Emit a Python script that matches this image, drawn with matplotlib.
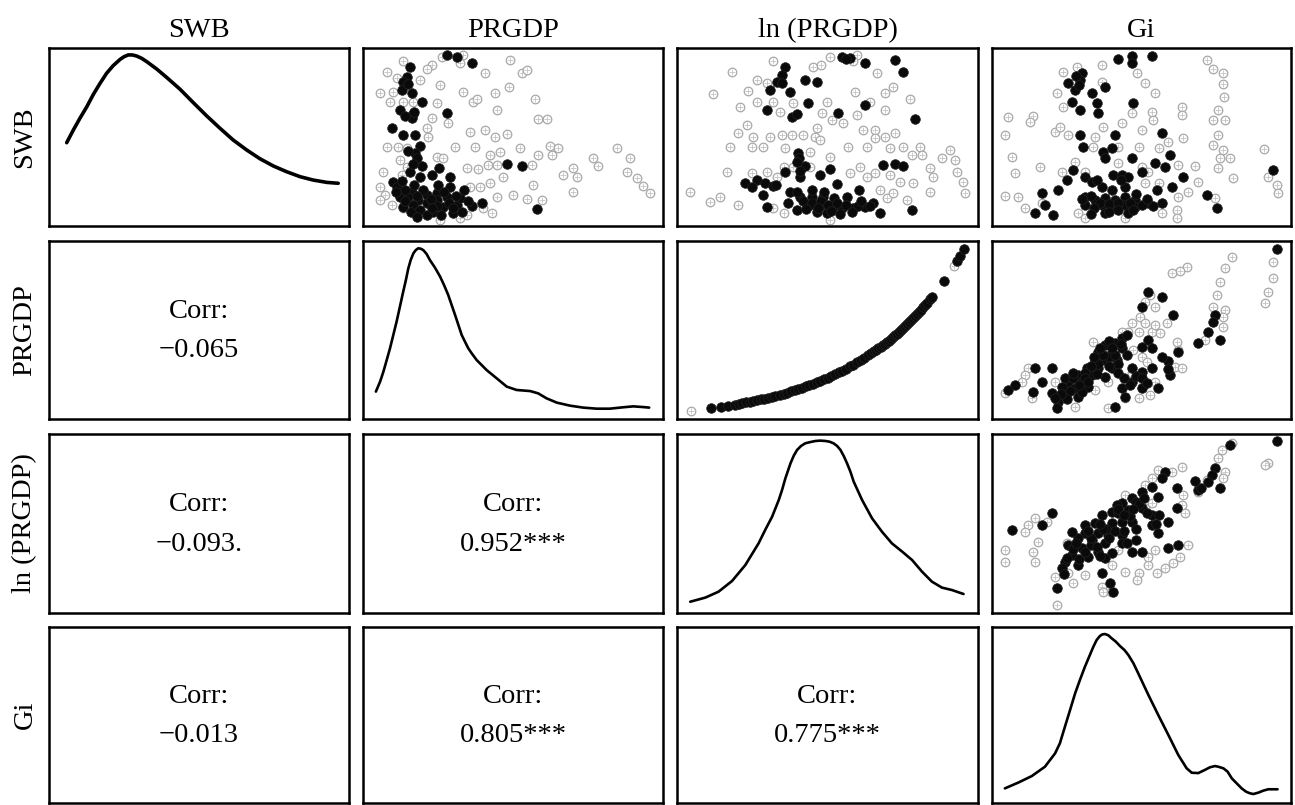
import numpy as np
import matplotlib.pyplot as plt

plt.rcParams['font.family'] = ['Liberation Serif', 'DejaVu Serif']

labels = ["SWB", "PRGDP", "ln (PRGDP)", "Gi"]

# lower triangle: correlation text (row, col, value)
corr_cells = [(1, 0, "\u22120.065"), (2, 0, "\u22120.093."), (2, 1, "0.952***"),
              (3, 0, "\u22120.013"), (3, 1, "0.805***"), (3, 2, "0.775***")]

# diagonal densities (x and y as share of the panel range)
swb_dens_x = [0.059, 0.081, 0.103, 0.126, 0.148, 0.170, 0.192, 0.214, 0.237, 0.250, 0.264, 0.278, 0.292,
              0.309, 0.326, 0.359, 0.392, 0.437, 0.481, 0.526, 0.570, 0.614, 0.659, 0.703, 0.748, 0.792,
              0.837, 0.881, 0.926, 0.964]
swb_dens_y = [0.468, 0.539, 0.605, 0.670, 0.740, 0.801, 0.858, 0.901, 0.936, 0.951, 0.961, 0.961, 0.955,
              0.942, 0.923, 0.882, 0.835, 0.768, 0.693, 0.618, 0.549, 0.483, 0.427, 0.378, 0.337, 0.305,
              0.277, 0.258, 0.245, 0.240]

prgdp_dens_x = [0.043, 0.057, 0.068, 0.079, 0.090, 0.101, 0.112, 0.123, 0.134, 0.143, 0.151, 0.159, 0.168,
                0.176, 0.184, 0.192, 0.201, 0.212, 0.223, 0.240, 0.257, 0.270, 0.284, 0.307, 0.329, 0.340,
                0.351, 0.364, 0.379, 0.412, 0.446, 0.479, 0.512, 0.557, 0.584, 0.612, 0.646, 0.690, 0.734,
                0.779, 0.823, 0.868, 0.901, 0.934, 0.954]
prgdp_dens_y = [0.154, 0.210, 0.266, 0.331, 0.397, 0.472, 0.547, 0.631, 0.715, 0.781, 0.846, 0.893, 0.931,
                0.949, 0.959, 0.957, 0.949, 0.927, 0.893, 0.850, 0.800, 0.753, 0.697, 0.584, 0.472, 0.434,
                0.397, 0.365, 0.331, 0.275, 0.228, 0.182, 0.163, 0.157, 0.144, 0.116, 0.092, 0.075, 0.064,
                0.058, 0.058, 0.066, 0.071, 0.067, 0.064]

lnprgdp_dens_x = [0.044, 0.094, 0.138, 0.183, 0.227, 0.271, 0.293, 0.316, 0.338, 0.349, 0.360, 0.377, 0.388,
                  0.399, 0.412, 0.426, 0.443, 0.460, 0.476, 0.493, 0.507, 0.520, 0.532, 0.543, 0.554, 0.565,
                  0.576, 0.587, 0.615, 0.648, 0.681, 0.714, 0.748, 0.781, 0.814, 0.847, 0.880, 0.914, 0.952]
lnprgdp_dens_y = [0.063, 0.086, 0.119, 0.179, 0.268, 0.389, 0.464, 0.538, 0.631, 0.687, 0.752, 0.836, 0.879,
                  0.911, 0.933, 0.948, 0.955, 0.961, 0.963, 0.961, 0.957, 0.948, 0.933, 0.911, 0.877, 0.836,
                  0.790, 0.734, 0.631, 0.529, 0.454, 0.389, 0.343, 0.296, 0.231, 0.175, 0.142, 0.128, 0.106]

gi_dens_x = [0.043, 0.088, 0.133, 0.177, 0.194, 0.211, 0.227, 0.244, 0.261, 0.278, 0.294, 0.311, 0.339,
             0.350, 0.361, 0.369, 0.378, 0.389, 0.400, 0.414, 0.428, 0.443, 0.456, 0.473, 0.489, 0.523,
             0.556, 0.590, 0.623, 0.651, 0.668, 0.690, 0.712, 0.729, 0.746, 0.757, 0.774, 0.788, 0.802,
             0.835, 0.850, 0.863, 0.874, 0.891, 0.907, 0.924, 0.955]
gi_dens_y = [0.083, 0.116, 0.153, 0.206, 0.244, 0.282, 0.339, 0.434, 0.528, 0.623, 0.699, 0.775, 0.888,
             0.926, 0.949, 0.958, 0.960, 0.953, 0.936, 0.917, 0.892, 0.869, 0.841, 0.794, 0.737, 0.614,
             0.500, 0.386, 0.273, 0.197, 0.172, 0.170, 0.188, 0.203, 0.210, 0.206, 0.197, 0.178, 0.140,
             0.083, 0.064, 0.055, 0.051, 0.059, 0.070, 0.078, 0.078]

# upper triangle scatter points (x, y as share of the panel range)
swb_prgdp_dark = [
    (0.279, 0.961), (0.312, 0.951), (0.362, 0.918), (0.157, 0.895), (0.146, 0.839), (0.134, 0.811),
    (0.129, 0.764), (0.162, 0.749), (0.196, 0.695), (0.123, 0.652), (0.168, 0.629), (0.162, 0.605),
    (0.279, 0.633), (0.096, 0.549), (0.134, 0.511), (0.173, 0.511), (0.190, 0.449), (0.173, 0.408),
    (0.179, 0.380), (0.196, 0.337), (0.157, 0.305), (0.229, 0.287), (0.252, 0.324), (0.101, 0.249),
    (0.112, 0.221), (0.162, 0.193), (0.190, 0.277), (0.212, 0.174), (0.246, 0.184), (0.184, 0.146),
    (0.212, 0.127), (0.246, 0.146), (0.279, 0.165), (0.268, 0.109), (0.312, 0.118), (0.335, 0.202),
    (0.362, 0.114), (0.396, 0.131), (0.301, 0.071), (0.234, 0.081), (0.123, 0.165), (0.479, 0.348),
    (0.529, 0.337), (0.579, 0.094), (0.290, 0.277), (0.324, 0.155), (0.168, 0.118), (0.134, 0.109),
    (0.151, 0.165), (0.290, 0.221), (0.190, 0.090), (0.212, 0.060), (0.245, 0.110), (0.260, 0.060),
    (0.285, 0.130), (0.300, 0.100), (0.330, 0.080), (0.350, 0.140), (0.225, 0.150), (0.200, 0.200),
    (0.170, 0.230), (0.140, 0.200), (0.130, 0.250), (0.250, 0.230), (0.310, 0.170), (0.270, 0.190),
    (0.180, 0.170), (0.230, 0.100), (0.160, 0.080), (0.140, 0.140), (0.180, 0.050), (0.110, 0.190),
    (0.165, 0.350), (0.150, 0.420), (0.140, 0.620), (0.150, 0.800), (0.170, 0.640)]
swb_prgdp_light = [
    (0.262, 0.951), (0.334, 0.961), (0.323, 0.918), (0.229, 0.904), (0.212, 0.880), (0.134, 0.929),
    (0.079, 0.867), (0.112, 0.830), (0.190, 0.820), (0.257, 0.792), (0.057, 0.745), (0.101, 0.755),
    (0.090, 0.698), (0.134, 0.698), (0.168, 0.698), (0.246, 0.693), (0.229, 0.605), (0.284, 0.577),
    (0.212, 0.549), (0.218, 0.502), (0.079, 0.442), (0.118, 0.446), (0.146, 0.436), (0.123, 0.371),
    (0.246, 0.386), (0.268, 0.380), (0.146, 0.333), (0.068, 0.305), (0.129, 0.287), (0.057, 0.221),
    (0.073, 0.174), (0.057, 0.146), (0.096, 0.118), (0.134, 0.099), (0.179, 0.071), (0.257, 0.034),
    (0.323, 0.043), (0.345, 0.062), (0.401, 0.099), (0.429, 0.071), (0.446, 0.165), (0.424, 0.240),
    (0.390, 0.221), (0.357, 0.221), (0.346, 0.324), (0.384, 0.318), (0.418, 0.343), (0.446, 0.343),
    (0.501, 0.174), (0.546, 0.150), (0.468, 0.277), (0.568, 0.230), (0.596, 0.146), (0.562, 0.343),
    (0.307, 0.446), (0.373, 0.446), (0.424, 0.399), (0.457, 0.418), (0.524, 0.436), (0.584, 0.399),
    (0.629, 0.399), (0.623, 0.449), (0.651, 0.436), (0.357, 0.530), (0.407, 0.539), (0.440, 0.502),
    (0.479, 0.517), (0.584, 0.599), (0.612, 0.599), (0.446, 0.652), (0.334, 0.755), (0.368, 0.698),
    (0.379, 0.712), (0.440, 0.745), (0.485, 0.783), (0.574, 0.712), (0.407, 0.858), (0.491, 0.933),
    (0.529, 0.861), (0.546, 0.876), (0.668, 0.287), (0.701, 0.324), (0.712, 0.277), (0.701, 0.193),
    (0.768, 0.380), (0.784, 0.337), (0.846, 0.436), (0.890, 0.380), (0.879, 0.305), (0.912, 0.268),
    (0.934, 0.227), (0.957, 0.184)]

swb_lnprgdp_dark = [
    (0.359, 0.895), (0.348, 0.848), (0.331, 0.811), (0.348, 0.805), (0.309, 0.764), (0.376, 0.755),
    (0.425, 0.820), (0.464, 0.811), (0.436, 0.689), (0.298, 0.652), (0.381, 0.614), (0.398, 0.629),
    (0.536, 0.633), (0.547, 0.951), (0.575, 0.942), (0.625, 0.918), (0.724, 0.933), (0.752, 0.867),
    (0.625, 0.680), (0.791, 0.599), (0.403, 0.408), (0.406, 0.380), (0.425, 0.337), (0.359, 0.305),
    (0.409, 0.277), (0.475, 0.287), (0.508, 0.318), (0.226, 0.240), (0.265, 0.258), (0.292, 0.240),
    (0.320, 0.225), (0.376, 0.193), (0.287, 0.174), (0.409, 0.165), (0.447, 0.165), (0.486, 0.165),
    (0.520, 0.155), (0.564, 0.165), (0.603, 0.202), (0.652, 0.127), (0.370, 0.127), (0.442, 0.118),
    (0.475, 0.112), (0.519, 0.109), (0.547, 0.099), (0.586, 0.099), (0.625, 0.109), (0.497, 0.071),
    (0.398, 0.090), (0.464, 0.081), (0.530, 0.236), (0.686, 0.343), (0.724, 0.348), (0.752, 0.337),
    (0.780, 0.090), (0.674, 0.071), (0.298, 0.109), (0.420, 0.140), (0.450, 0.130), (0.480, 0.140),
    (0.500, 0.120), (0.530, 0.130), (0.560, 0.120), (0.600, 0.110), (0.430, 0.095), (0.470, 0.100),
    (0.510, 0.085), (0.540, 0.070), (0.580, 0.080), (0.400, 0.190), (0.490, 0.190), (0.450, 0.200),
    (0.610, 0.140), (0.640, 0.110), (0.400, 0.360), (0.410, 0.310), (0.560, 0.940), (0.330, 0.230),
    (0.250, 0.220)]
swb_lnprgdp_light = [
    (0.182, 0.867), (0.121, 0.742), (0.320, 0.929), (0.265, 0.820), (0.298, 0.801), (0.237, 0.760),
    (0.265, 0.698), (0.210, 0.670), (0.320, 0.698), (0.342, 0.642), (0.387, 0.693), (0.453, 0.895),
    (0.480, 0.904), (0.508, 0.951), (0.597, 0.961), (0.586, 0.929), (0.663, 0.858), (0.719, 0.783),
    (0.691, 0.745), (0.591, 0.755), (0.497, 0.698), (0.481, 0.633), (0.514, 0.596), (0.553, 0.577),
    (0.597, 0.624), (0.641, 0.698), (0.691, 0.652), (0.774, 0.712), (0.231, 0.567), (0.204, 0.521),
    (0.254, 0.502), (0.309, 0.502), (0.348, 0.511), (0.381, 0.511), (0.420, 0.511), (0.459, 0.502),
    (0.475, 0.483), (0.176, 0.442), (0.248, 0.446), (0.287, 0.446), (0.359, 0.436), (0.442, 0.418),
    (0.464, 0.549), (0.508, 0.390), (0.569, 0.446), (0.630, 0.446), (0.619, 0.539), (0.658, 0.539),
    (0.658, 0.493), (0.691, 0.502), (0.724, 0.521), (0.708, 0.436), (0.752, 0.446), (0.780, 0.399),
    (0.807, 0.442), (0.813, 0.399), (0.165, 0.305), (0.248, 0.296), (0.298, 0.305), (0.331, 0.277),
    (0.354, 0.333), (0.387, 0.333), (0.442, 0.333), (0.575, 0.296), (0.608, 0.333), (0.630, 0.277),
    (0.658, 0.296), (0.708, 0.287), (0.741, 0.249), (0.785, 0.240), (0.841, 0.324), (0.852, 0.277),
    (0.841, 0.193), (0.879, 0.380), (0.907, 0.427), (0.924, 0.371), (0.929, 0.305), (0.951, 0.249),
    (0.956, 0.184), (0.043, 0.193), (0.110, 0.137), (0.143, 0.165), (0.204, 0.118), (0.320, 0.099),
    (0.354, 0.071), (0.508, 0.034), (0.697, 0.155), (0.719, 0.184), (0.763, 0.146), (0.674, 0.202)]

swb_gi_dark = [
    (0.423, 0.936), (0.468, 0.955), (0.468, 0.918), (0.534, 0.955), (0.300, 0.858), (0.294, 0.820),
    (0.255, 0.805), (0.278, 0.764), (0.333, 0.749), (0.378, 0.783), (0.350, 0.689), (0.267, 0.698),
    (0.294, 0.652), (0.356, 0.637), (0.473, 0.693), (0.294, 0.511), (0.306, 0.446), (0.372, 0.418),
    (0.400, 0.436), (0.378, 0.380), (0.411, 0.511), (0.567, 0.521), (0.595, 0.399), (0.545, 0.352),
    (0.579, 0.333), (0.640, 0.273), (0.601, 0.221), (0.272, 0.315), (0.250, 0.258), (0.311, 0.277),
    (0.334, 0.249), (0.367, 0.221), (0.406, 0.287), (0.434, 0.287), (0.456, 0.277), (0.445, 0.221),
    (0.222, 0.202), (0.311, 0.165), (0.345, 0.146), (0.378, 0.155), (0.411, 0.146), (0.445, 0.165),
    (0.478, 0.146), (0.311, 0.118), (0.367, 0.118), (0.401, 0.109), (0.445, 0.118), (0.478, 0.109),
    (0.523, 0.127), (0.568, 0.127), (0.378, 0.071), (0.456, 0.071), (0.551, 0.202), (0.144, 0.071),
    (0.177, 0.118), (0.166, 0.184), (0.205, 0.062), (0.718, 0.174), (0.752, 0.099), (0.941, 0.315),
    (0.501, 0.305), (0.467, 0.380), (0.330, 0.170), (0.360, 0.130), (0.390, 0.125), (0.420, 0.130),
    (0.460, 0.130), (0.500, 0.120), (0.540, 0.110), (0.340, 0.100), (0.420, 0.090), (0.470, 0.090),
    (0.390, 0.080), (0.330, 0.070), (0.300, 0.150), (0.400, 0.200), (0.430, 0.260), (0.350, 0.260),
    (0.480, 0.180), (0.520, 0.150), (0.280, 0.840), (0.290, 0.790)]
swb_gi_light = [
    (0.239, 0.867), (0.283, 0.895), (0.367, 0.904), (0.484, 0.858), (0.512, 0.801), (0.545, 0.745),
    (0.367, 0.811), (0.216, 0.745), (0.239, 0.670), (0.467, 0.633), (0.534, 0.642), (0.540, 0.596),
    (0.634, 0.670), (0.634, 0.624), (0.718, 0.933), (0.740, 0.880), (0.774, 0.861), (0.774, 0.796),
    (0.777, 0.724), (0.757, 0.652), (0.740, 0.596), (0.779, 0.596), (0.757, 0.511), (0.740, 0.455),
    (0.774, 0.427), (0.763, 0.380), (0.796, 0.380), (0.757, 0.324), (0.679, 0.337), (0.807, 0.268),
    (0.055, 0.614), (0.138, 0.618), (0.127, 0.586), (0.043, 0.511), (0.066, 0.390), (0.077, 0.296),
    (0.161, 0.333), (0.211, 0.530), (0.255, 0.511), (0.227, 0.558), (0.345, 0.502), (0.372, 0.554),
    (0.434, 0.577), (0.501, 0.539), (0.339, 0.446), (0.422, 0.446), (0.490, 0.446), (0.557, 0.436),
    (0.590, 0.474), (0.640, 0.493), (0.422, 0.352), (0.501, 0.333), (0.523, 0.305), (0.623, 0.343),
    (0.278, 0.361), (0.233, 0.305), (0.512, 0.240), (0.557, 0.240), (0.690, 0.249), (0.657, 0.193),
    (0.623, 0.165), (0.043, 0.169), (0.088, 0.165), (0.111, 0.099), (0.166, 0.127), (0.289, 0.071),
    (0.311, 0.043), (0.445, 0.043), (0.568, 0.071), (0.618, 0.090), (0.618, 0.043), (0.746, 0.155),
    (0.911, 0.431), (0.924, 0.277), (0.952, 0.230), (0.958, 0.184), (0.311, 0.305)]

prgdp_gi_dark = [
    (0.952, 0.955), (0.523, 0.715), (0.567, 0.687), (0.501, 0.631), (0.607, 0.584), (0.746, 0.584),
    (0.740, 0.543), (0.724, 0.491), (0.690, 0.425), (0.763, 0.444), (0.523, 0.444), (0.501, 0.406),
    (0.534, 0.397), (0.434, 0.453), (0.411, 0.425), (0.378, 0.416), (0.356, 0.378), (0.400, 0.378),
    (0.434, 0.397), (0.345, 0.331), (0.378, 0.331), (0.417, 0.331), (0.317, 0.285), (0.356, 0.285),
    (0.400, 0.285), (0.289, 0.247), (0.334, 0.247), (0.378, 0.238), (0.255, 0.210), (0.300, 0.210),
    (0.233, 0.182), (0.278, 0.172), (0.322, 0.182), (0.244, 0.135), (0.289, 0.125), (0.222, 0.097),
    (0.216, 0.064), (0.467, 0.285), (0.501, 0.266), (0.467, 0.210), (0.534, 0.285), (0.434, 0.172),
    (0.501, 0.172), (0.556, 0.172), (0.590, 0.326), (0.595, 0.247), (0.623, 0.378), (0.166, 0.210),
    (0.200, 0.285), (0.138, 0.154), (0.077, 0.191), (0.055, 0.163), (0.144, 0.285), (0.244, 0.228),
    (0.200, 0.144), (0.411, 0.069), (0.445, 0.125), (0.367, 0.360), (0.390, 0.350), (0.356, 0.310),
    (0.310, 0.260), (0.270, 0.230), (0.420, 0.310), (0.450, 0.360), (0.260, 0.160), (0.300, 0.150),
    (0.270, 0.260), (0.310, 0.230), (0.330, 0.300), (0.350, 0.250), (0.390, 0.300), (0.370, 0.360),
    (0.410, 0.360), (0.430, 0.420), (0.390, 0.440), (0.360, 0.400), (0.420, 0.260), (0.250, 0.110),
    (0.230, 0.140), (0.210, 0.120), (0.480, 0.240), (0.500, 0.230), (0.460, 0.190), (0.440, 0.230),
    (0.520, 0.200), (0.290, 0.190), (0.320, 0.210), (0.340, 0.350), (0.400, 0.400), (0.450, 0.470),
    (0.590, 0.280), (0.570, 0.350)]
prgdp_gi_light = [
    (0.651, 0.856), (0.629, 0.831), (0.601, 0.818), (0.802, 0.912), (0.779, 0.846), (0.763, 0.772),
    (0.751, 0.697), (0.740, 0.631), (0.779, 0.612), (0.774, 0.575), (0.774, 0.519), (0.712, 0.444),
    (0.941, 0.884), (0.941, 0.790), (0.924, 0.715), (0.913, 0.650), (0.529, 0.697), (0.512, 0.659),
    (0.545, 0.631), (0.495, 0.575), (0.467, 0.537), (0.456, 0.491), (0.490, 0.491), (0.534, 0.491),
    (0.562, 0.481), (0.584, 0.537), (0.545, 0.528), (0.512, 0.537), (0.339, 0.434), (0.434, 0.491),
    (0.473, 0.388), (0.501, 0.350), (0.517, 0.322), (0.618, 0.434), (0.621, 0.388), (0.612, 0.294),
    (0.634, 0.288), (0.211, 0.210), (0.122, 0.285), (0.111, 0.247), (0.099, 0.210), (0.043, 0.144),
    (0.133, 0.116), (0.278, 0.069), (0.389, 0.060), (0.445, 0.116), (0.490, 0.116), (0.529, 0.135),
    (0.501, 0.182), (0.546, 0.210), (0.467, 0.257), (0.389, 0.210), (0.345, 0.163)]

lnprgdp_gi_dark = [
    (0.952, 0.961), (0.796, 0.939), (0.746, 0.808), (0.735, 0.771), (0.724, 0.734), (0.763, 0.696),
    (0.690, 0.687), (0.579, 0.790), (0.567, 0.752), (0.534, 0.706), (0.501, 0.678), (0.467, 0.641),
    (0.434, 0.613), (0.417, 0.603), (0.200, 0.557), (0.166, 0.492), (0.066, 0.464), (0.501, 0.585),
    (0.556, 0.650), (0.456, 0.575), (0.400, 0.566), (0.367, 0.548), (0.345, 0.501), (0.400, 0.501),
    (0.434, 0.510), (0.467, 0.510), (0.534, 0.548), (0.534, 0.492), (0.556, 0.445), (0.618, 0.585),
    (0.590, 0.510), (0.311, 0.445), (0.356, 0.445), (0.389, 0.436), (0.434, 0.436), (0.289, 0.417),
    (0.334, 0.408), (0.378, 0.389), (0.434, 0.389), (0.255, 0.380), (0.300, 0.361), (0.356, 0.343),
    (0.400, 0.333), (0.467, 0.343), (0.501, 0.343), (0.266, 0.324), (0.322, 0.315), (0.378, 0.305),
    (0.244, 0.287), (0.289, 0.268), (0.233, 0.250), (0.367, 0.222), (0.216, 0.142), (0.395, 0.166),
    (0.406, 0.119), (0.590, 0.361), (0.622, 0.380), (0.311, 0.492), (0.266, 0.455), (0.380, 0.470),
    (0.420, 0.560), (0.480, 0.620), (0.330, 0.380), (0.270, 0.360), (0.290, 0.300), (0.310, 0.340),
    (0.330, 0.420), (0.350, 0.370), (0.370, 0.470), (0.390, 0.420), (0.410, 0.460), (0.440, 0.460),
    (0.460, 0.540), (0.480, 0.470), (0.420, 0.580), (0.440, 0.550), (0.490, 0.610), (0.510, 0.640),
    (0.520, 0.560), (0.470, 0.580), (0.360, 0.500), (0.320, 0.460), (0.280, 0.390), (0.250, 0.310),
    (0.240, 0.220), (0.360, 0.320), (0.450, 0.390), (0.480, 0.410), (0.550, 0.500), (0.560, 0.550),
    (0.620, 0.700), (0.700, 0.700), (0.680, 0.740)]
lnprgdp_gi_light = [
    (0.803, 0.948), (0.768, 0.911), (0.757, 0.864), (0.779, 0.790), (0.774, 0.752), (0.718, 0.743),
    (0.690, 0.678), (0.640, 0.659), (0.634, 0.603), (0.645, 0.557), (0.924, 0.836), (0.913, 0.827),
    (0.634, 0.818), (0.601, 0.790), (0.556, 0.799), (0.534, 0.752), (0.512, 0.715), (0.445, 0.659),
    (0.512, 0.585), (0.534, 0.613), (0.122, 0.492), (0.144, 0.529), (0.111, 0.455), (0.043, 0.352),
    (0.043, 0.287), (0.144, 0.287), (0.138, 0.343), (0.155, 0.399), (0.183, 0.510), (0.250, 0.389),
    (0.255, 0.222), (0.211, 0.203), (0.272, 0.166), (0.311, 0.212), (0.400, 0.268), (0.422, 0.352),
    (0.445, 0.231), (0.490, 0.222), (0.484, 0.184), (0.523, 0.268), (0.551, 0.222), (0.579, 0.250),
    (0.607, 0.277), (0.629, 0.315), (0.545, 0.352), (0.523, 0.315), (0.657, 0.380), (0.216, 0.045),
    (0.367, 0.147), (0.372, 0.119), (0.399, 0.119)]

# PRGDP against ln(PRGDP): observed ln values, PRGDP is exp of them
ln_prgdp_dark = [9.38, 9.48, 9.55, 9.62, 9.66, 9.69, 9.73, 9.77, 9.80, 9.84, 9.88, 9.91, 9.95, 9.99,
                 10.02, 10.06, 10.10, 10.13, 10.17, 10.21, 10.24, 10.28, 10.32, 10.35, 10.39, 10.43,
                 10.46, 10.50, 10.54, 10.57, 10.61, 10.65, 10.68, 10.72, 10.76, 10.79, 10.83, 10.87,
                 10.90, 10.94, 10.97, 11.00, 11.02, 11.04, 11.06, 11.08, 11.10, 11.12, 11.14, 11.16,
                 11.18, 11.20, 11.22, 11.24, 11.26, 11.28, 11.30, 11.32, 11.34, 11.36, 11.38, 11.40,
                 11.42, 11.44, 11.46, 11.48, 11.50, 11.52, 11.55, 11.57, 11.69, 11.82, 11.85, 11.89]
ln_prgdp_light = [9.18, 11.79]

scatter_cells = {
    (0, 1): (swb_prgdp_dark, swb_prgdp_light),
    (0, 2): (swb_lnprgdp_dark, swb_lnprgdp_light),
    (0, 3): (swb_gi_dark, swb_gi_light),
    (1, 3): (prgdp_gi_dark, prgdp_gi_light),
    (2, 3): (lnprgdp_gi_dark, lnprgdp_gi_light),
}
dens_cells = [(swb_dens_x, swb_dens_y, 2.6), (prgdp_dens_x, prgdp_dens_y, 1.9),
              (lnprgdp_dens_x, lnprgdp_dens_y, 1.9), (gi_dens_x, gi_dens_y, 1.9)]

W, H = 1295, 805
col_left = [49, 363, 677, 992]
col_w = [300, 300, 301, 299]
row_top = [48, 241, 434, 627]
row_h = [178, 178, 179, 176]
fs = 20.5

fig = plt.figure(figsize=(W / 100, H / 100), dpi=100)


def draw_points(ax, x, y, dark):
    if dark:
        ax.scatter(x, y, s=48, color='#0a0a0a', edgecolors='#222222', linewidths=0.5, zorder=3)
    else:
        ax.scatter(x, y, s=38, facecolors='white', edgecolors='#a8a8a8', linewidths=0.9, zorder=2)
        ax.scatter(x, y, s=16, marker='+', color='#c4c4c4', linewidths=0.6, zorder=2)


for r in range(4):
    for c in range(4):
        ax = fig.add_axes([col_left[c] / W, 1 - (row_top[r] + row_h[r]) / H, col_w[c] / W, row_h[r] / H])
        ax.set_xticks([])
        ax.set_yticks([])
        for sp in ax.spines.values():
            sp.set_linewidth(1.8)
            sp.set_color('black')

        if r == c:
            dx, dy, lw = dens_cells[r]
            ax.plot(dx, dy, color='black', lw=lw, solid_capstyle='round', solid_joinstyle='round')
            ax.set_xlim(0, 1)
            ax.set_ylim(0, 1)
        elif r > c:
            txt = [t for (rr, cc, t) in corr_cells if rr == r and cc == c][0]
            ax.text(0.5, 0.605, "Corr:", ha='center', va='center', fontsize=fs, transform=ax.transAxes)
            ax.text(0.5, 0.385, txt, ha='center', va='center', fontsize=fs, transform=ax.transAxes)
        elif (r, c) == (1, 2):
            ln_l = np.array(ln_prgdp_light)
            ln_d = np.array(ln_prgdp_dark)
            draw_points(ax, ln_l, np.exp(ln_l), dark=False)
            draw_points(ax, ln_d, np.exp(ln_d), dark=True)
            ax.margins(0.05)
        else:
            dark, light = scatter_cells[(r, c)]
            light = np.array(light)
            dark = np.array(dark)
            draw_points(ax, light[:, 0], light[:, 1], dark=False)
            draw_points(ax, dark[:, 0], dark[:, 1], dark=True)
            ax.set_xlim(0, 1)
            ax.set_ylim(0, 1)

        if r == 0:
            ax.set_title(labels[c], fontsize=fs, pad=8)
        if c == 0:
            fig.text(25 / W, 1 - (row_top[r] + row_h[r] / 2) / H, labels[r], rotation=90,
                     ha='center', va='center', fontsize=fs)

fig.savefig('out.png', dpi=100)
